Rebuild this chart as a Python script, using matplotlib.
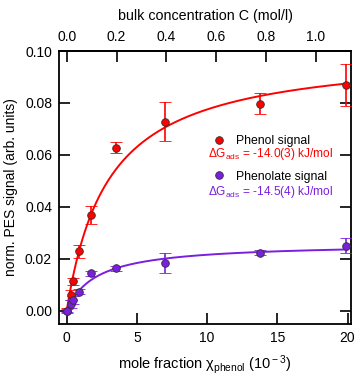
import numpy as np
import matplotlib
matplotlib.use("Agg")
import matplotlib.pyplot as plt
from matplotlib.lines import Line2D

plt.rcParams['font.family'] = ['Liberation Sans', 'DejaVu Sans']
plt.rcParams['mathtext.fontset'] = 'custom'
plt.rcParams['mathtext.rm'] = 'Liberation Sans'
plt.rcParams['mathtext.it'] = 'Liberation Sans'

# ---- data (mole fraction in 1e-3) ----
x_frac = [0.0, 0.28, 0.45, 0.9, 1.75, 3.5, 7.0, 13.8, 19.9]
phenol = [0.0, 0.0060, 0.0112, 0.0228, 0.0368, 0.0628, 0.0728, 0.0797, 0.0870]
phenol_err = [0.0008, 0.0020, 0.0015, 0.0025, 0.0035, 0.0020, 0.0075, 0.0040, 0.0080]
phenolate = [0.0, 0.0025, 0.0040, 0.0072, 0.0143, 0.0163, 0.0183, 0.0222, 0.0250]
phenolate_err = [0.0005, 0.0015, 0.0015, 0.0010, 0.0010, 0.0010, 0.0040, 0.0010, 0.0030]

# Langmuir fit parameters (y = ymax * x / (x + b))
phenol_fit = (0.1005, 2.97)
phenolate_fit = (0.0260, 2.10)

conv = 17.75  # mole fraction (1e-3) per mol/l

x_ticks = [0, 5, 10, 15, 20]
y_ticks = [0.00, 0.02, 0.04, 0.06, 0.08, 0.10]
top_ticks = [0.0, 0.2, 0.4, 0.6, 0.8, 1.0]

RED = '#FF0000'
PURPLE = '#7A1FE0'

fig = plt.figure(figsize=(3.57, 3.77), dpi=100)
ax = fig.add_axes([0.1653, 0.1406, 0.818, 0.7241])

xf = np.linspace(0, 20, 300)
for (ymax, b), col in [(phenol_fit, RED), (phenolate_fit, PURPLE)]:
    ax.plot(xf, ymax * xf / (xf + b), color=col, lw=1.4, zorder=2)

ax.errorbar(x_frac, phenol, yerr=phenol_err, fmt='o', color=RED, ecolor=RED,
            mec='#303030', mew=0.6, ms=5.5, elinewidth=1.2, capsize=4, capthick=1.2, zorder=3)
ax.errorbar(x_frac, phenolate, yerr=phenolate_err, fmt='o', color=PURPLE, ecolor=PURPLE,
            mec='#303030', mew=0.6, ms=5.5, elinewidth=1.2, capsize=4, capthick=1.2, zorder=3)

ax.set_xlim(-0.55, 20.25)
ax.set_ylim(-0.0052, 0.10)
ax.set_xticks(x_ticks)
ax.set_xticklabels([str(t) for t in x_ticks])
ax.set_yticks(y_ticks)
ax.set_yticklabels([f"{t:.2f}" for t in y_ticks])
ax.tick_params(direction='in', length=8, width=1.2, labelsize=10, right=True, pad=5)
for s in ax.spines.values():
    s.set_linewidth(1.3)

sec = ax.secondary_xaxis('top', functions=(lambda x: x / conv, lambda c: c * conv))
sec.set_xticks(top_ticks)
sec.set_xticklabels([f"{t:.1f}" for t in top_ticks])
sec.tick_params(direction='in', length=8, width=1.2, labelsize=10, pad=5)
sec.spines['top'].set_linewidth(1.3)
sec.set_xlabel('bulk concentration C (mol/l)', fontsize=10.3, labelpad=7)

ax.set_xlabel(r'mole fraction $\chi_{\rm phenol}$ (10$^{\rm -3}$)', fontsize=10.5, labelpad=6)
ax.set_ylabel('norm. PES signal (arb. units)', fontsize=10, labelpad=5)

handles = [Line2D([], [], ls='none', marker='o', color=RED, mec='#303030', mew=0.6, ms=5.5),
           Line2D([], [], ls='none', marker='o', color=PURPLE, mec='#303030', mew=0.6, ms=5.5)]
ax.legend(handles, ['Phenol signal', 'Phenolate signal'], loc='upper left',
          bbox_to_anchor=(0.505, 0.715), frameon=False, fontsize=8.8,
          labelspacing=1.95, handlelength=1.0, handletextpad=0.9, borderpad=0)
ax.text(0.509, 0.623, r'$\Delta$G$_{\rm ads}$ = -14.0(3) kJ/mol', transform=ax.transAxes,
        color=RED, fontsize=8.6, va='center', ha='left')
ax.text(0.509, 0.482, r'$\Delta$G$_{\rm ads}$ = -14.5(4) kJ/mol', transform=ax.transAxes,
        color=PURPLE, fontsize=8.6, va='center', ha='left')

fig.savefig('out.png', dpi=100)
